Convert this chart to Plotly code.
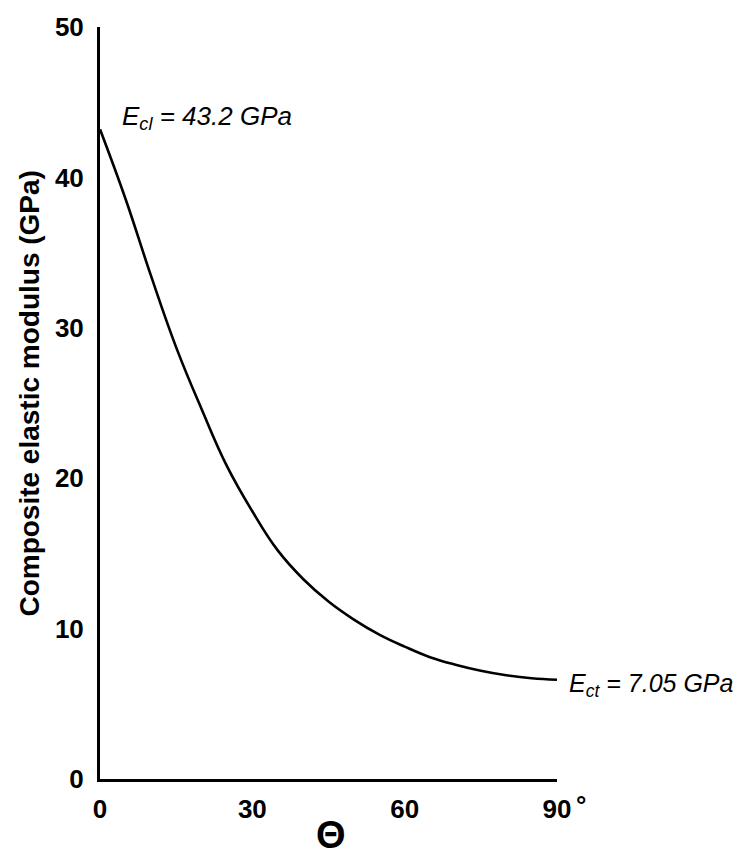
import plotly.graph_objects as go

# Data
theta_deg = [0, 5, 10, 15, 20, 25, 30, 35, 40, 45, 50, 55, 60, 65, 70, 75, 80, 85, 90]
modulus_gpa = [43.2, 38.6, 33.5, 28.7, 24.6, 20.8, 17.8, 15.2, 13.3, 11.8, 10.6,
               9.6, 8.8, 8.1, 7.6, 7.2, 6.9, 6.7, 6.6]
x_tickvals = [0, 30, 60, 90]
x_ticktext = ["0", "30", "60", "90"]
y_tickvals = [0, 10, 20, 30, 40, 50]
y_ticktext = ["0", "10", "20", "30", "40", "50"]

FONT = "Liberation Sans, Arial, sans-serif"

W, H = 738, 860
ML, MR, MT, MB = 100, 181, 20, 81
plot_l, plot_r, plot_t, plot_b = ML, W - MR, MT, H - MB


def px_to_paper(px, py):
    return (px - plot_l) / (plot_r - plot_l), (plot_b - py) / (plot_b - plot_t)


fig = go.Figure()
fig.add_trace(go.Scatter(
    x=theta_deg, y=modulus_gpa, mode="lines",
    line=dict(color="black", width=2.6, shape="spline", smoothing=1.2),
    showlegend=False, hoverinfo="skip", cliponaxis=False,
))

fig.update_layout(
    width=W, height=H,
    margin=dict(l=ML, r=MR, t=MT, b=MB),
    paper_bgcolor="white", plot_bgcolor="white",
    font=dict(family=FONT, color="black"),
    xaxis=dict(
        range=[0, 90], tickvals=x_tickvals, ticktext=x_ticktext,
        showline=True, linecolor="black", linewidth=3,
        showgrid=False, zeroline=False,
        ticks="outside", ticklen=5, tickcolor="rgba(0,0,0,0)",
        tickfont=dict(family=FONT, size=26, color="black", weight="bold"),
    ),
    yaxis=dict(
        range=[0, 50], tickvals=y_tickvals, ticktext=y_ticktext,
        showline=True, linecolor="black", linewidth=3,
        showgrid=False, zeroline=False,
        ticks="outside", ticklen=8, tickcolor="rgba(0,0,0,0)",
        tickfont=dict(family=FONT, size=26, color="black", weight="bold"),
    ),
)

ect_x, ect_y = px_to_paper(567, 684)
theta_x, theta_y = px_to_paper(331, 836)
ytit_x, ytit_y = px_to_paper(30, 390)
deg_x, deg_y = px_to_paper(574, 788)

annotations = [
    dict(text="<i>E<sub>cl</sub> = 43.2 GPa</i>", x=4.0, y=44.0, xref="x", yref="y",
         xanchor="left", yanchor="middle", showarrow=False,
         font=dict(family=FONT, size=26, color="black")),
    dict(text="<i>E<sub>ct</sub> = 7.05 GPa</i>", x=ect_x, y=ect_y, xref="paper", yref="paper",
         xanchor="left", yanchor="middle", showarrow=False,
         font=dict(family=FONT, size=25, color="black")),
    dict(text="<b>°</b>", x=deg_x, y=deg_y, xref="paper", yref="paper",
         xanchor="left", yanchor="top", showarrow=False,
         font=dict(family=FONT, size=26, color="black")),
    dict(text="<b>Θ</b>", x=theta_x, y=theta_y, xref="paper", yref="paper",
         xanchor="center", yanchor="middle", showarrow=False,
         font=dict(family=FONT, size=38, color="black")),
    dict(text="<b>Composite elastic modulus (GPa)</b>", x=ytit_x, y=ytit_y,
         xref="paper", yref="paper", xanchor="center", yanchor="middle",
         textangle=-90, showarrow=False,
         font=dict(family=FONT, size=28, color="black")),
]
fig.update_layout(annotations=annotations)

fig.write_html("out.html")
